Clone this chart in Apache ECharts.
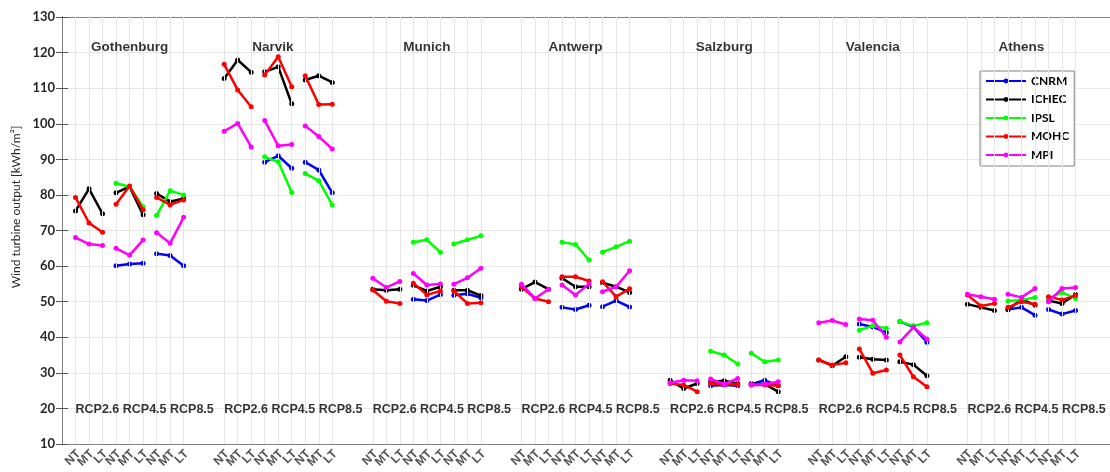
<!DOCTYPE html>
<html>
<head>
<meta charset="utf-8">
<script src="https://cdn.jsdelivr.net/npm/echarts@6/dist/echarts.min.js"></script>
<style>html,body{margin:0;padding:0;background:#fff;}#c{width:1110px;height:472px;}</style>
</head>
<body>
<div id="c"></div>
<script>
// ---- data ----
const cities = ['Gothenburg','Narvik','Munich','Antwerp','Salzburg','Valencia','Athens'];
const rcps = ['RCP2.6','RCP4.5','RCP8.5'];
const periods = ['NT','MT','LT'];
const models = ['CNRM','ICHEC','IPSL','MOHC','MPI'];
const modelColors = ['#0000ff','#000000','#00ff00','#ff0000','#ff00ff'];
const yTicks = [10,20,30,40,50,60,70,80,90,100,110,120,130];
const yTitle = 'Wind turbine output [kWh/m²]';
const _ = null;
// each: city -> [RCP2.6 NT,MT,LT, RCP4.5 NT,MT,LT, RCP8.5 NT,MT,LT]
const CNRM = [
  [_,_,_, 60.1,60.6,60.8, 63.5,63.0,60.1],
  [_,_,_, 89.2,91.0,87.5, 89.2,87.0,80.6],
  [_,_,_, 50.7,50.3,52.0, 51.8,52.2,51.1],
  [_,_,_, 48.4,47.8,49.0, 48.6,50.3,48.5],
  [_,_,_, 26.4,26.6,26.4, 26.8,27.9,26.4],
  [_,_,_, 43.7,42.9,41.3, 44.4,42.9,38.6],
  [_,_,_, 47.8,48.4,46.2, 47.8,46.5,47.5]
];
const ICHEC = [
  [75.5,81.7,74.7, 80.6,82.3,74.4, 80.4,78.1,79.0],
  [112.7,117.9,114.5, 114.6,116.0,105.6, 112.3,113.5,111.6],
  [53.5,53.2,53.5, 54.6,53.0,54.2, 53.2,53.2,51.7],
  [53.5,55.5,53.5, 56.6,54.2,54.2, 55.3,54.2,52.6],
  [27.9,25.6,27.0, 27.5,27.8,27.0, 27.0,26.8,24.7],
  [33.6,32.0,34.5, 34.4,33.8,33.6, 33.1,32.3,29.2],
  [49.3,48.4,47.5, 47.7,50.7,49.0, 50.3,49.5,52.0]
];
const IPSL = [
  [_,_,_, 83.3,82.3,76.7, 74.2,81.2,80.0],
  [_,_,_, 90.7,89.3,80.7, 86.0,84.0,77.2],
  [_,_,_, 66.7,67.4,63.9, 66.2,67.4,68.5],
  [_,_,_, 66.7,66.1,61.7, 63.9,65.4,67.0],
  [_,_,_, 36.1,35.0,32.5, 35.5,33.1,33.6],
  [_,_,_, 42.0,43.2,42.5, 44.4,43.2,44.1],
  [_,_,_, 50.2,50.5,51.2, 50.9,52.6,50.9]
];
const MOHC = [
  [79.3,72.1,69.5, 77.4,82.5,75.8, 79.3,77.2,78.6],
  [116.7,109.5,104.8, 113.7,118.8,110.4, 113.5,105.4,105.5],
  [53.3,50.1,49.5, 55.2,51.9,53.0, 53.0,49.5,49.7],
  [54.2,50.9,50.0, 57.0,57.0,55.8, 55.6,51.4,53.6],
  [27.0,26.6,24.7, 27.0,26.8,26.7, 26.6,26.6,26.4],
  [33.6,32.2,32.8, 36.7,29.9,30.8, 35.0,28.9,26.1],
  [51.9,48.8,49.5, 48.4,50.0,49.3, 51.4,50.5,51.7]
];
const MPI = [
  [68.0,66.2,65.8, 65.0,63.1,67.3, 69.4,66.4,73.7],
  [97.9,100.1,93.5, 100.9,93.8,94.2, 99.4,96.4,92.9],
  [56.6,54.0,55.7, 57.9,54.7,55.0, 54.9,56.7,59.4],
  [54.9,50.9,53.5, 54.7,51.9,55.0, 52.8,54.2,58.7],
  [27.2,27.9,27.8, 28.3,26.8,28.4, 26.7,26.8,27.5],
  [44.1,44.7,43.6, 45.1,44.8,40.0, 38.7,42.8,39.5],
  [52.1,51.4,50.7, 52.1,51.2,53.7, 50.0,53.7,54.0]
];
const modelData = [CNRM, ICHEC, IPSL, MOHC, MPI];

// ---- layout of the category slots on the x scale ----
const CITY_SLOTS = 11;   // 9 ticks + 2 blank slots
const pos = (c, r, p) => 1 + c * CITY_SLOTS + r * 3 + p;
const tickPositions = [];
const tickLabels = [];
cities.forEach((city, c) => rcps.forEach((rc, r) => periods.forEach((pe, p) => {
  tickPositions.push(pos(c, r, p));
  tickLabels.push(pe);
})));

const Y_MIN = yTicks[0], Y_MAX = yTicks[yTicks.length - 1];

const series = models.map((m, mi) => {
  const data = [];
  cities.forEach((city, c) => rcps.forEach((rc, r) => {
    periods.forEach((pe, p) => data.push([pos(c, r, p), modelData[mi][c][r * 3 + p]]));
    data.push([pos(c, r, 2) + 0.5, null]);
  }));
  return {
    name: m, type: 'line', data: data, connectNulls: false,
    symbol: 'circle', symbolSize: 5, showSymbol: true,
    lineStyle: { width: 2.5, color: modelColors[mi] },
    itemStyle: { color: modelColors[mi] },
    emphasis: { disabled: true }, animation: false, z: 3 + mi
  };
});

// vertical grid lines at category ticks only
series.push({
  type: 'line', data: [], silent: true, animation: false, z: 1,
  markLine: {
    silent: true, symbol: ['none', 'none'], animation: false,
    label: { show: false },
    lineStyle: { color: '#e6e6e6', width: 1, type: 'solid' },
    data: tickPositions.map(v => ({ xAxis: v }))
  }
});

// rotated NT/MT/LT tick labels below the axis
series.push({
  type: 'scatter', silent: true, symbolSize: 0, animation: false, clip: false, z: 10,
  data: tickPositions.map((x, i) => [x, Y_MIN, tickLabels[i]]),
  label: { show: true, position: [3, 8], rotate: 45, align: 'right', verticalAlign: 'middle',
    formatter: p => p.data[2],
    fontFamily: 'Liberation Sans, Arial', fontWeight: 'bold', fontSize: 12, color: '#262626' }
});

const cityLabelY = 121.6;
const rcpLabelY = 19.55;
series.push({
  type: 'scatter', silent: true, symbolSize: 0, animation: false, z: 10,
  data: cities.map((c, i) => [pos(i, 1, 1) - (i === 1 ? 0.4 : 0), cityLabelY, c]),
  label: { show: true, position: 'inside', formatter: p => p.data[2],
    fontFamily: 'Liberation Sans, Arial', fontWeight: 'bold', fontSize: 13.5, color: '#000' }
});
series.push({
  type: 'scatter', silent: true, symbolSize: 0, animation: false, z: 10,
  data: cities.map((c, i) => [pos(i, 0, 0), rcpLabelY, rcps.join(' ')]),
  label: { show: true, position: 'inside', align: 'left', formatter: p => p.data[2],
    fontFamily: 'Liberation Sans, Arial', fontWeight: 'bold', fontSize: 12.5, color: '#000' }
});

const axisGray = '#808080';
const option = {
  animation: false,
  backgroundColor: '#fff',
  grid: { left: 62, top: 17, width: 1048, height: 427, containLabel: false },
  legend: {
    data: models, orient: 'vertical', left: 980, top: 71,
    itemWidth: 40, itemHeight: 6, itemGap: 6.5, padding: [4, 5, 5, 5],
    borderColor: axisGray, borderWidth: 1, backgroundColor: '#fff',
    textStyle: { fontFamily: 'Lato', fontWeight: 'bold', fontSize: 12, color: '#000' },
    selectedMode: false
  },
  graphic: [{
    type: 'text', x: 16, y: 207, rotation: Math.PI / 2, silent: true,
    style: { text: yTitle, fill: '#262626', font: '12px Lato', align: 'center', verticalAlign: 'middle' }
  }],
  xAxis: [{
    type: 'value', min: 0, max: 77.55, position: 'bottom',
    axisLine: { show: true, lineStyle: { color: axisGray, width: 1 } },
    axisTick: { show: true, inside: true, length: 9, customValues: tickPositions, lineStyle: { color: '#555' } },
    axisLabel: { show: false },
    splitLine: { show: false }
  }, {
    type: 'value', min: 0, max: 77.55, position: 'top',
    axisLine: { show: true, lineStyle: { color: axisGray, width: 1 } },
    axisTick: { show: true, inside: true, length: 9, customValues: tickPositions, lineStyle: { color: '#555' } },
    axisLabel: { show: false }, splitLine: { show: false }
  }],
  yAxis: [{
    type: 'value', min: Y_MIN, max: Y_MAX, interval: 10, position: 'left',
    axisLine: { show: true, lineStyle: { color: axisGray, width: 1 } },
    axisTick: { show: true, inside: true, length: 6, lineStyle: { color: '#555' } },
    axisLabel: { margin: 7, fontFamily: 'Lato', fontWeight: 'bold', fontSize: 13, color: '#262626',
      showMinLabel: true, showMaxLabel: true },
    splitLine: { show: true, lineStyle: { color: '#e6e6e6', width: 1 } }
  }, {
    type: 'value', min: Y_MIN, max: Y_MAX, interval: 10, position: 'right',
    axisLine: { show: true, lineStyle: { color: axisGray, width: 1 } },
    axisTick: { show: true, inside: true, length: 6, lineStyle: { color: '#555' } },
    axisLabel: { show: false }, splitLine: { show: false }
  }],
  series: series
};
const chart = echarts.init(document.getElementById('c'), null, { renderer: 'canvas' });
chart.setOption(option);
</script>
</body>
</html>
